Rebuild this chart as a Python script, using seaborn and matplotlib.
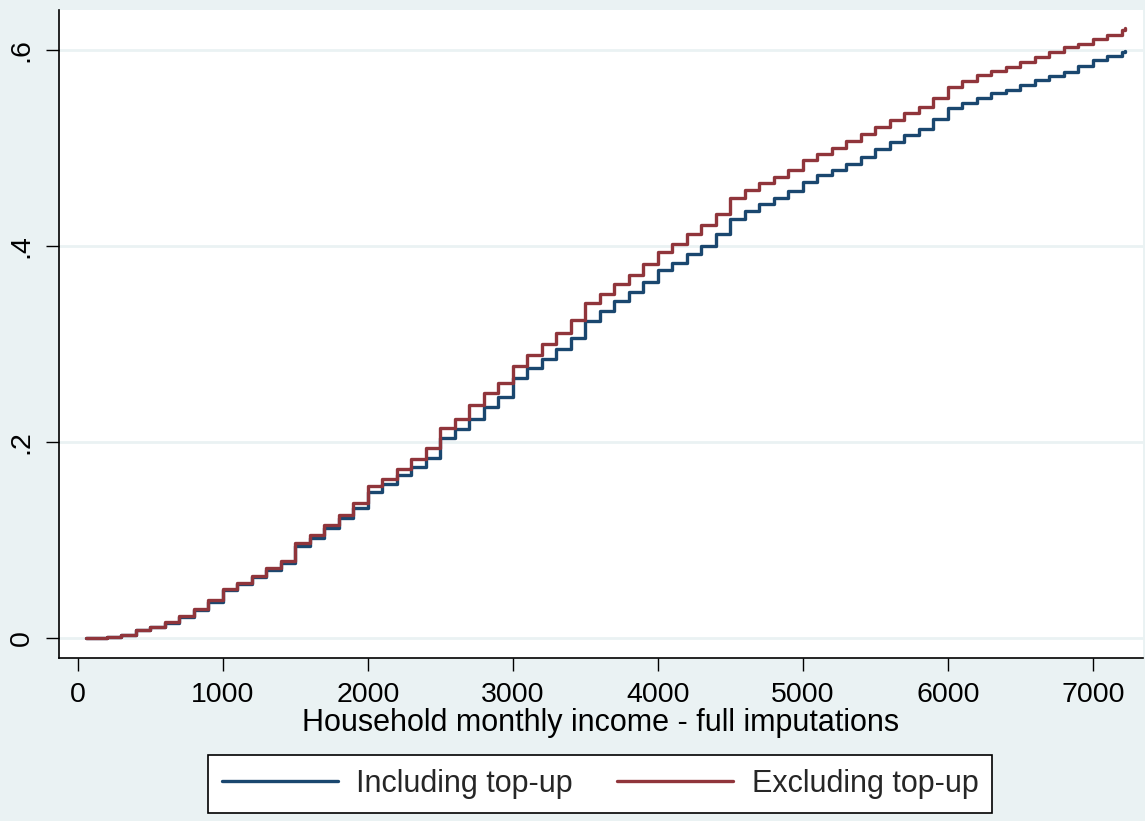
import numpy as np
import pandas as pd
import matplotlib
matplotlib.use("Agg")
import matplotlib.pyplot as plt
import seaborn as sns
from matplotlib.lines import Line2D

# Cumulative share of households by monthly income (step function)
income = [55, 100, 200, 300, 400, 500, 600, 700, 800, 900,
          1000, 1100, 1200, 1300, 1400, 1500, 1600, 1700, 1800, 1900,
          2000, 2100, 2200, 2300, 2400, 2500, 2600, 2700, 2800, 2900,
          3000, 3100, 3200, 3300, 3400, 3500, 3600, 3700, 3800, 3900,
          4000, 4100, 4200, 4300, 4400, 4500, 4600, 4700, 4800, 4900,
          5000, 5100, 5200, 5300, 5400, 5500, 5600, 5700, 5800, 5900,
          6000, 6100, 6200, 6300, 6400, 6500, 6600, 6700, 6800, 6900,
          7000, 7100, 7200, 7220]

including_topup = [0.000, 0.000, 0.001, 0.003, 0.008, 0.011, 0.015, 0.021, 0.029, 0.037,
                   0.049, 0.055, 0.062, 0.069, 0.077, 0.094, 0.102, 0.112, 0.122, 0.133,
                   0.149, 0.157, 0.166, 0.175, 0.184, 0.204, 0.213, 0.223, 0.236, 0.246,
                   0.265, 0.275, 0.285, 0.295, 0.306, 0.323, 0.334, 0.344, 0.353, 0.363,
                   0.375, 0.383, 0.392, 0.400, 0.412, 0.428, 0.436, 0.443, 0.449, 0.456,
                   0.465, 0.472, 0.478, 0.484, 0.491, 0.499, 0.506, 0.513, 0.519, 0.530,
                   0.541, 0.546, 0.551, 0.556, 0.559, 0.564, 0.569, 0.573, 0.578, 0.584,
                   0.590, 0.594, 0.598, 0.599]

excluding_topup = [0.000, 0.000, 0.001, 0.003, 0.008, 0.011, 0.016, 0.022, 0.030, 0.039,
                   0.050, 0.056, 0.063, 0.071, 0.079, 0.097, 0.105, 0.115, 0.126, 0.138,
                   0.155, 0.162, 0.172, 0.183, 0.194, 0.214, 0.223, 0.238, 0.250, 0.260,
                   0.278, 0.289, 0.300, 0.311, 0.324, 0.342, 0.351, 0.361, 0.370, 0.382,
                   0.394, 0.402, 0.412, 0.421, 0.433, 0.449, 0.457, 0.464, 0.470, 0.478,
                   0.488, 0.494, 0.500, 0.507, 0.514, 0.521, 0.529, 0.536, 0.542, 0.551,
                   0.562, 0.568, 0.574, 0.579, 0.583, 0.588, 0.593, 0.598, 0.603, 0.606,
                   0.611, 0.615, 0.620, 0.622]

series_names = ["Including top-up", "Excluding top-up"]
series_colors = ["#1A476F", "#90353B"]

x_ticks = [0, 1000, 2000, 3000, 4000, 5000, 6000, 7000]
y_ticks = [0, 0.2, 0.4, 0.6]
y_tick_labels = ["0", ".2", ".4", ".6"]

df = pd.DataFrame({
    "income": income * 2,
    "share": including_topup + excluding_topup,
    "series": [series_names[0]] * len(income) + [series_names[1]] * len(income),
})

sns.set_theme(style="white")
plt.rcParams["font.family"] = ["Liberation Sans", "DejaVu Sans"]

bg = "#EAF2F3"
fig = plt.figure(figsize=(11.45, 8.21), dpi=100, facecolor=bg)
ax = fig.add_axes([59 / 1145, 1 - 658 / 821, (1143 - 59) / 1145, (658 - 10) / 821])
ax.set_facecolor("white")

for yv in y_ticks:
    ax.axhline(yv, color=bg, lw=2.0, zorder=0)

sns.lineplot(data=df, x="income", y="share", hue="series", hue_order=series_names,
             palette=series_colors, drawstyle="steps-post", estimator=None,
             linewidth=2.4, legend=False, ax=ax)

ax.set_xlim(-131, 7345)
ax.set_ylim(-0.0204, 0.6408)
ax.set_xticks(x_ticks)
ax.set_xticklabels([str(t) for t in x_ticks])
ax.set_yticks(y_ticks)
ax.set_yticklabels(y_tick_labels, rotation=90, va="center")

for side in ["top", "right"]:
    ax.spines[side].set_visible(False)
for side in ["left", "bottom"]:
    ax.spines[side].set_color("black")
    ax.spines[side].set_linewidth(1.2)

ax.tick_params(axis="both", which="major", direction="out", length=9.5, width=1.0,
               color="black", labelsize=20.5, labelcolor="black", pad=8,
               left=True, bottom=True)
ax.set_xlabel("Household monthly income - full imputations", fontsize=22, color="black", labelpad=0)
ax.set_ylabel("")

handles = [Line2D([0], [0], color=c, lw=2.4) for c in series_colors]
leg = fig.legend(handles, series_names, loc="center", bbox_to_anchor=(600 / 1145, 1 - 784 / 821),
                 ncol=2, fontsize=22, frameon=True, fancybox=False, edgecolor="black",
                 facecolor="white", framealpha=1, handlelength=3.8, handletextpad=0.6,
                 columnspacing=1.45, borderpad=0.45, borderaxespad=0)
leg.get_frame().set_linewidth(1.2)

fig.savefig("out.png", dpi=100, facecolor=bg)
